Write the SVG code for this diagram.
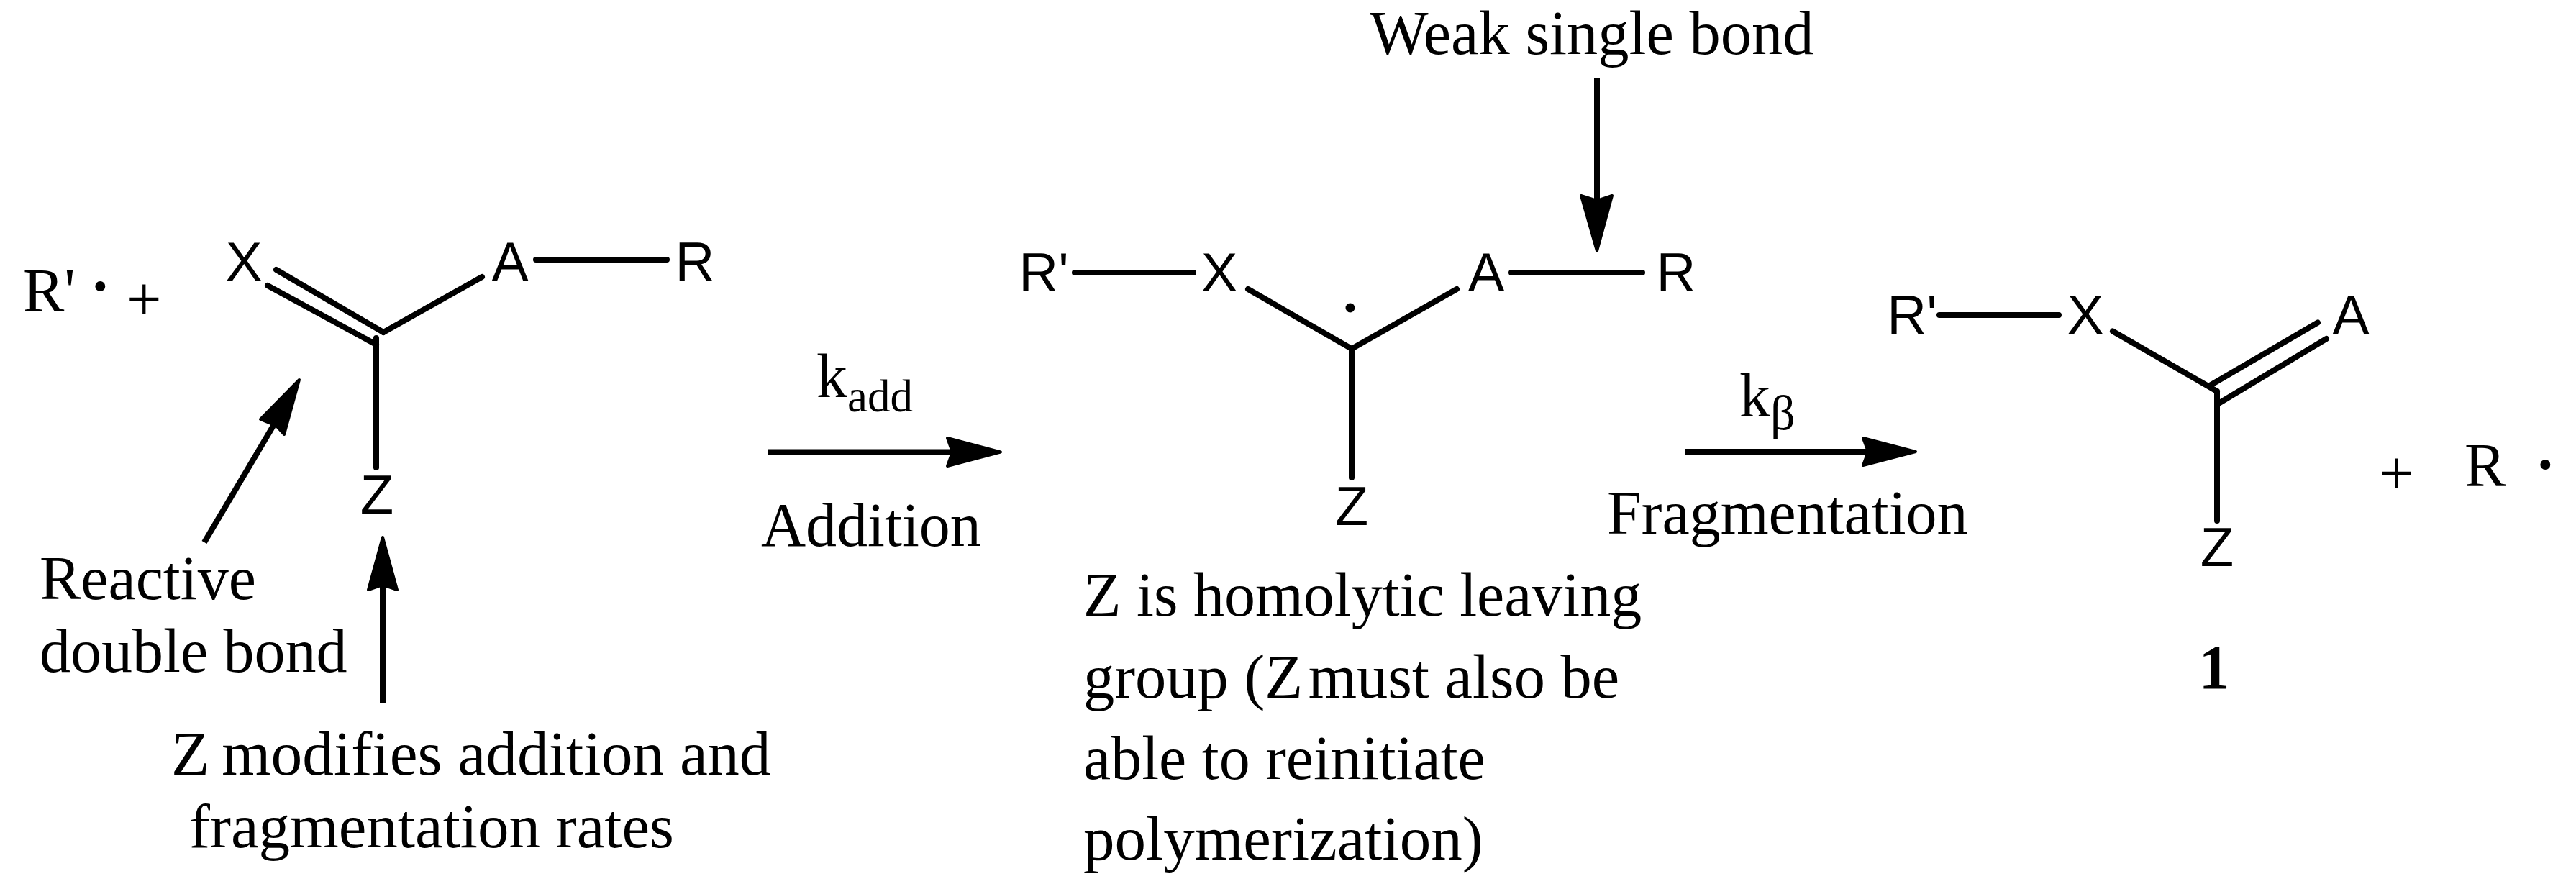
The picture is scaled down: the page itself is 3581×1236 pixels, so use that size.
<svg xmlns="http://www.w3.org/2000/svg" width="3581" height="1236" viewBox="0 0 3581 1236">
<style>
.t{font-family:"Liberation Serif","Times New Roman",serif;font-size:86px;fill:#000}
.a{font-family:"Liberation Sans",Arial,sans-serif;font-size:76px;fill:#000}
.m{text-anchor:middle}
.b{stroke:#000;stroke-width:8;stroke-linecap:round;fill:none}
.s{stroke:#000;stroke-width:8;fill:none}
.h{fill:#000;stroke:#000;stroke-width:4;stroke-linejoin:round}
</style>
<rect width="3581" height="1236" fill="#fff"/>
<g id="connectors">
<path class="b" d="M745 361H927M384 375L533 462M372 397L523 479M533 462L670 385M523 470V650"/>
<path class="s" d="M284 754L384 585"/><path class="h" d="M416 528L395 604L384 592L362 583Z"/>
<path class="s" d="M532 977V800"/><path class="h" d="M532 747L552 820L532 813L512 820Z"/>
<path class="s" d="M2220 109V285"/><path class="h" d="M2220 349L2198 272L2220 279L2241 272Z"/>
<path class="b" d="M1494 379H1659M2101 379H2283M1735 402L1879 485L2025 402M1879 485V664"/>
<path class="s" d="M1068 628.500H1330"/><path class="h" d="M1391 628.500L1317 609L1324 628.500L1317 648Z"/>
<path class="s" d="M2343 628H2600"/><path class="h" d="M2663 628L2590 609L2597 628L2590 647Z"/>
<path class="b" d="M2696 438H2862M2937 460.500L3082 544M3072 536L3222 448.500M3084 561L3234 471M3082 544V724"/>
</g>
<g id="reactant">
<text class="t" x="32" y="433">R'<tspan x="125" y="427" font-weight="bold">·</tspan><tspan x="176" y="445">+</tspan></text>
<text class="a m" x="339" y="390">X</text><text class="a m" x="709" y="390">A</text><text class="a m" x="966" y="390">R</text><text class="a m" x="524" y="714">Z</text>
</g>
<g id="intermediate">
<text class="a m" x="1451" y="405">R'</text><text class="a m" x="1695" y="405">X</text><text class="a m" x="2066" y="405">A</text><text class="a m" x="2330" y="405">R</text><text class="a m" x="1879" y="730">Z</text>
<circle cx="1877" cy="428" r="6.500"/>
</g>
<g id="product">
<text class="a m" x="2658" y="464">R'</text><text class="a m" x="2899" y="464">X</text><text class="a m" x="3268" y="464">A</text><text class="a m" x="3082" y="787">Z</text>
<text class="t" x="3078" y="957" text-anchor="middle" font-weight="bold">1</text>
</g>
<g id="radical">
<text class="t" x="3307" y="687">+</text><text class="t" x="3426" y="676">R<tspan x="3524" y="675" font-weight="bold">·</tspan></text>
</g>
<g id="labels">
<text class="t" x="55" y="833">Reactive</text><text class="t" x="55" y="934">double bond</text>
<text class="t" x="238" y="1077" style="font-size:87.500px">Z <tspan dx="-5">modifies addition and</tspan></text><text class="t" x="263" y="1178" style="font-size:87px">fragmentation rates</text>
<text class="t" x="1135" y="552">k<tspan font-size="63" dy="20">add</tspan></text>
<text class="t" x="1058" y="759">Addition</text>
<text class="t" x="1904" y="75" style="font-size:86.500px">Weak single bond</text>
<text class="t" x="1506" y="856">Z is homolytic leaving</text><text class="t" x="1506" y="970" style="font-size:86.500px">group (Z <tspan dx="-14">must also be</tspan></text><text class="t" x="1506" y="1083">able to reinitiate</text><text class="t" x="1506" y="1195" style="font-size:87px">polymerization)</text>
<text class="t" x="2418" y="579">k<tspan font-size="68" dy="18">β</tspan></text>
<text class="t" x="2234" y="742">Fragmentation</text>
</g>
</svg>
